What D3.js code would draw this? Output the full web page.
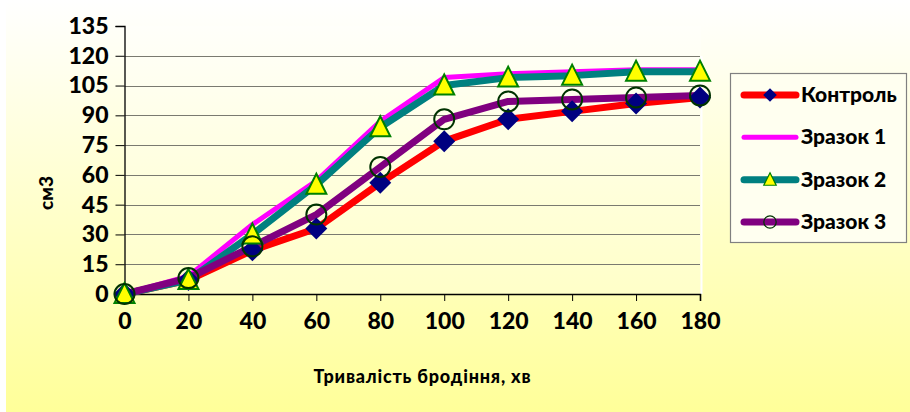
<!DOCTYPE html>
<html>
<head>
<meta charset="utf-8">
<script src="https://d3js.org/d3.v7.min.js"></script>
<style>
  body { margin: 0; background: #fff; }
  svg { display: block; }
  text { font-family: Lato, "Liberation Sans", sans-serif; font-weight: 900; }
</style>
</head>
<body>
<script>
  // data
  var minutes = [0, 20, 40, 60, 80, 100, 120, 140, 160, 180];
  var yTicks = [0, 15, 30, 45, 60, 75, 90, 105, 120, 135];
  var kontrol = [0, 7, 22, 33, 56, 77, 88, 92, 96, 99];
  var zrazok1 = [0, 9, 35, 57, 87, 109, 111, 112, 113, 113];
  var zrazok2 = [0, 7, 30, 55, 84, 105, 109, 110, 112, 112];
  var zrazok3 = [0, 8, 24, 40, 64, 88, 97, 98, 99, 100];
  var names = ["Контроль", "Зразок 1", "Зразок 2", "Зразок 3"];

  var W = 910, H = 412;
  var x0 = 124.5, x1 = 700, yTop = 26, yBot = 294;

  var svg = d3.select("body").append("svg")
      .attr("width", W).attr("height", H);

  var defs = svg.append("defs");
  var g1 = defs.append("linearGradient").attr("id", "bg")
      .attr("x1", 0).attr("y1", 0).attr("x2", 0).attr("y2", 1);
  g1.append("stop").attr("offset", "0%").attr("stop-color", "#ffffff");
  g1.append("stop").attr("offset", "100%").attr("stop-color", "#ffff99");
  var g2 = defs.append("linearGradient").attr("id", "pbg")
      .attr("x1", 0).attr("y1", 0).attr("x2", 0).attr("y2", 1);
  g2.append("stop").attr("offset", "0%").attr("stop-color", "#fffffa");
  g2.append("stop").attr("offset", "100%").attr("stop-color", "#ffffc8");

  svg.append("rect").attr("x", 6).attr("y", 0).attr("width", W - 6).attr("height", H)
      .attr("fill", "url(#bg)");

  var x = d3.scaleLinear().domain([0, 180]).range([x0, x1]);
  var y = d3.scaleLinear().domain([0, 135]).range([yBot, yTop]);

  // plot area
  svg.append("rect").attr("x", x0).attr("y", yTop).attr("width", x1 - x0 + 1)
      .attr("height", yBot - yTop).attr("fill", "url(#pbg)");
  svg.append("line").attr("x1", x1 + 1.5).attr("x2", x1 + 1.5)
      .attr("y1", yTop + 30).attr("y2", yBot).attr("stroke", "#fff").attr("stroke-width", 2);

  // gridlines
  svg.append("g").selectAll("line").data(yTicks.filter(function (d) { return d > 0 && d < 135; }))
    .enter().append("line")
      .attr("x1", x0).attr("x2", x1)
      .attr("y1", function (d) { return Math.round(y(d)) + 0.5; })
      .attr("y2", function (d) { return Math.round(y(d)) + 0.5; })
      .attr("stroke", "#7a7a70").attr("stroke-width", 1.2);

  // axes
  var yAxis = d3.axisLeft(y).tickValues(yTicks).tickSize(9).tickPadding(7);
  var ya = svg.append("g").attr("transform", "translate(" + x0 + ",0)").call(yAxis);
  ya.select(".domain").attr("stroke", "#000").attr("stroke-width", 1.3);
  ya.selectAll(".tick line").attr("stroke", "#000");
  ya.selectAll("text").attr("font-size", 23).attr("fill", "#000")
    .attr("font-family", "Lato, sans-serif").attr("font-weight", 900);

  var xAxis = d3.axisBottom(x).tickValues(minutes).tickSize(7).tickPadding(12);
  var xa = svg.append("g").attr("transform", "translate(0," + yBot + ")").call(xAxis);
  xa.select(".domain").attr("stroke", "#000").attr("stroke-width", 1.6);
  xa.selectAll(".tick line").attr("stroke", "#000");
  xa.selectAll("text").attr("font-size", 23).attr("fill", "#000")
    .attr("font-family", "Lato, sans-serif").attr("font-weight", 900);

  // axis titles
  svg.append("text").attr("x", 422).attr("y", 383).attr("text-anchor", "middle")
      .attr("font-size", 18).attr("textLength", 217).text("Тривалість бродіння, хв");
  svg.append("text").attr("transform", "translate(53,193) rotate(-90)")
      .attr("text-anchor", "middle").attr("font-size", 19).text("см3");

  var line = d3.line().x(function (d, i) { return x(minutes[i]); }).y(function (d) { return y(d); });

  var series = [
    { name: names[0], vals: kontrol, color: "#ff0000", w: 7, marker: "diamond" },
    { name: names[1], vals: zrazok1, color: "#ff00ff", w: 5, marker: "none" },
    { name: names[2], vals: zrazok2, color: "#008080", w: 7, marker: "triangle" },
    { name: names[3], vals: zrazok3, color: "#800080", w: 7, marker: "circle" }
  ];

  function drawMarker(sel, type) {
    if (type === "diamond") {
      sel.append("path").attr("d", "M0,-11L11,0L0,11L-11,0Z").attr("fill", "#000080");
    } else if (type === "triangle") {
      sel.append("path").attr("d", "M0,-11L10,9L-10,9Z").attr("fill", "#ffff00")
        .attr("stroke", "#008000").attr("stroke-width", 2);
    } else if (type === "circle") {
      sel.append("circle").attr("r", 10).attr("fill", "none")
        .attr("stroke", "#003300").attr("stroke-width", 2);
    }
  }

  series.forEach(function (s) {
    svg.append("path").datum(s.vals).attr("d", line).attr("fill", "none")
      .attr("stroke", s.color).attr("stroke-width", s.w).attr("stroke-linejoin", "round");
  });
  series.forEach(function (s) {
    if (s.marker === "none") return;
    svg.append("g").selectAll("g").data(s.vals).enter().append("g")
      .attr("transform", function (d, i) { return "translate(" + x(minutes[i]) + "," + y(d) + ")"; })
      .each(function () { drawMarker(d3.select(this), s.marker); });
  });

  // legend
  var lg = svg.append("g");
  lg.append("rect").attr("x", 730.5).attr("y", 73.5).attr("width", 176).attr("height", 169)
    .attr("fill", "#fffff0").attr("stroke", "#808080").attr("stroke-width", 1.2);
  var ly = d3.scalePoint().domain(names).range([95, 222]);
  series.forEach(function (s) {
    var gy = ly(s.name);
    lg.append("line").attr("x1", 744).attr("x2", 796).attr("y1", gy).attr("y2", gy)
      .attr("stroke", s.color).attr("stroke-width", s.w).attr("stroke-linecap", "round");
    var m = lg.append("g").attr("transform", "translate(770," + gy + ") scale(0.62)");
    drawMarker(m, s.marker);
    lg.append("text").attr("x", 801).attr("y", gy + 7).attr("font-size", 21).text(s.name);
  });
</script>
</body>
</html>
